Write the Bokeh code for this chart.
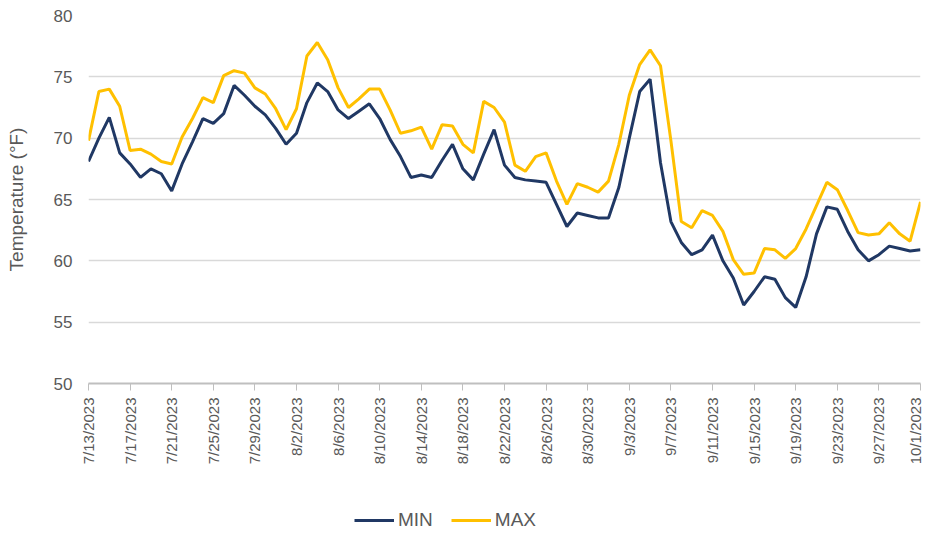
import math
import pandas as pd
from bokeh.plotting import figure
from bokeh.layouts import column
from bokeh.models import ColumnDataSource, FixedTicker, Legend, LegendItem, Range1d
from bokeh.embed import file_html
from bokeh.resources import INLINE

dates = pd.date_range("2023-07-13", "2023-10-01", freq="D")
date_labels = [f"{d.month}/{d.day}/{d.year}" for d in dates]

min_temp = [68.1, 70.0, 71.7, 68.8, 67.9, 66.8, 67.5, 67.1, 65.7, 67.9,
            69.7, 71.6, 71.2, 72.0, 74.3, 73.5, 72.6, 71.9, 70.8, 69.5,
            70.4, 72.9, 74.5, 73.8, 72.3, 71.6, 72.2, 72.8, 71.6, 69.9,
            68.5, 66.8, 67.0, 66.8, 68.2, 69.5, 67.5, 66.6, 68.7, 70.7,
            67.8, 66.8, 66.6, 66.5, 66.4, 64.6, 62.8, 63.9, 63.7, 63.5,
            63.5, 66.0, 70.0, 73.8, 74.8, 68.0, 63.2, 61.5, 60.5, 60.9,
            62.1, 60.0, 58.6, 56.4, 57.5, 58.7, 58.5, 57.0, 56.2, 58.7,
            62.2, 64.4, 64.2, 62.4, 60.9, 60.0, 60.5, 61.2, 61.0, 60.8,
            60.9]
max_temp = [69.8, 73.8, 74.0, 72.6, 69.0, 69.1, 68.7, 68.1, 67.9, 70.1,
            71.6, 73.3, 72.9, 75.1, 75.5, 75.3, 74.1, 73.6, 72.4, 70.7,
            72.4, 76.7, 77.8, 76.4, 74.1, 72.5, 73.2, 74.0, 74.0, 72.3,
            70.4, 70.6, 70.9, 69.1, 71.1, 71.0, 69.5, 68.8, 73.0, 72.5,
            71.3, 67.8, 67.3, 68.5, 68.8, 66.5, 64.6, 66.3, 66.0, 65.6,
            66.5, 69.5, 73.5, 76.0, 77.2, 75.9, 69.8, 63.2, 62.7, 64.1,
            63.7, 62.4, 60.1, 58.9, 59.0, 61.0, 60.9, 60.2, 61.0, 62.6,
            64.5, 66.4, 65.8, 64.1, 62.3, 62.1, 62.2, 63.1, 62.2, 61.6,
            64.8]
y_ticks = [50, 55, 60, 65, 70, 75, 80]
series_names = ["MIN", "MAX"]
series_colors = ["#203864", "#FFC000"]

idx = list(range(len(date_labels)))
src = ColumnDataSource(dict(x=idx, mn=min_temp, mx=max_temp))

p = figure(frame_width=832, frame_height=368, output_backend="svg", toolbar_location=None,
           x_range=Range1d(0, len(idx) - 1), y_range=Range1d(50, 80),
           min_border_left=88, min_border_right=3, min_border_top=15, min_border_bottom=0)
p.outline_line_color = None
p.background_fill_color = "white"

p.line("x", "mn", source=src, line_color=series_colors[0], line_width=3)
p.line("x", "mx", source=src, line_color=series_colors[1], line_width=3)

tick_idx = idx[::4]
p.xaxis.ticker = FixedTicker(ticks=tick_idx)
p.xaxis.major_label_overrides = {i: date_labels[i] for i in tick_idx}
p.xaxis.major_label_orientation = math.pi / 2
p.xaxis.major_label_text_font = "Liberation Sans"
p.xaxis.major_label_text_font_size = "15px"
p.xaxis.major_label_text_color = "#595959"
p.xaxis.axis_line_color = "#bfbfbf"
p.xaxis.axis_line_width = 2
p.xaxis.major_tick_line_color = "#bfbfbf"
p.xaxis.major_tick_out = 7
p.xaxis.major_tick_in = 0
p.xaxis.minor_tick_line_color = None
p.xaxis.major_label_standoff = 7

p.yaxis.ticker = FixedTicker(ticks=y_ticks)
p.yaxis.axis_line_color = None
p.yaxis.major_tick_line_color = None
p.yaxis.minor_tick_line_color = None
p.yaxis.major_label_text_font = "Liberation Sans"
p.yaxis.major_label_text_font_size = "17px"
p.yaxis.major_label_text_color = "#595959"
p.yaxis.axis_label = "Temperature (°F)"
p.yaxis.axis_label_text_font = "Liberation Sans"
p.yaxis.axis_label_text_font_size = "19px"
p.yaxis.axis_label_text_font_style = "normal"
p.yaxis.axis_label_text_color = "#595959"
p.yaxis.major_label_standoff = 10
p.yaxis.axis_label_standoff = 24

p.xgrid.grid_line_color = None
p.ygrid.grid_line_color = "#d9d9d9"
p.ygrid.grid_line_width = 1.5

# legend strip below the chart (series drawn out of view, only legend glyphs show)
p2 = figure(width=923, height=66, output_backend="svg", toolbar_location=None,
            x_range=Range1d(0, 1), y_range=Range1d(0, 1),
            min_border=0)
p2.outline_line_color = None
p2.axis.visible = False
p2.grid.visible = False
items = []
for name, col, vals in zip(series_names, series_colors, [min_temp, max_temp]):
    r = p2.line(idx, vals, line_color=col, line_width=3)
    items.append(LegendItem(label=name, renderers=[r]))
legend = Legend(items=items, orientation="horizontal", location=(266, 2),
                label_text_font="Liberation Sans", label_text_font_size="19px",
                label_text_color="#595959", border_line_color=None,
                background_fill_alpha=0,
                glyph_width=40, glyph_height=20, label_standoff=4,
                spacing=18, margin=0, padding=2)
p2.add_layout(legend, "center")

layout = column(p, p2, spacing=0)
open("out.html", "w").write(file_html(layout, INLINE))
